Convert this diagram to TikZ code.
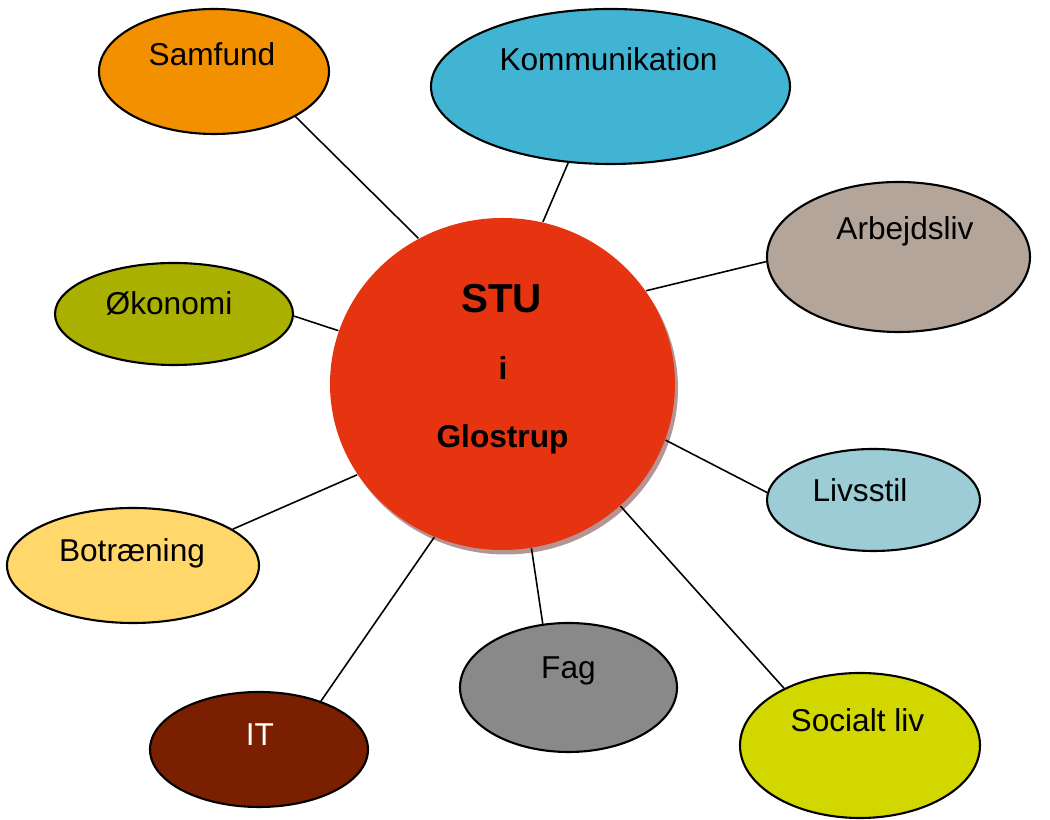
\documentclass[tikz,border=0pt]{standalone}
\usepackage{fontspec}
\setmainfont{Liberation Sans}
\usepackage{xcolor}
\usetikzlibrary{shapes.geometric,shadows}

\definecolor{samfundc}{HTML}{F39000}
\definecolor{kommc}{HTML}{42B4D3}
\definecolor{arbejdc}{HTML}{B3A59A}
\definecolor{okonomic}{HTML}{A9B000}
\definecolor{livsstilc}{HTML}{9CCCD6}
\definecolor{botraenc}{HTML}{FFD76A}
\definecolor{fagc}{HTML}{898989}
\definecolor{itc}{HTML}{7A1F00}
\definecolor{socialc}{HTML}{D3D700}
\definecolor{stuc}{HTML}{E5340F}
\definecolor{stushade}{HTML}{B59494}

\begin{document}
\begin{tikzpicture}
	[bubble/.style={ellipse,draw,line width=0.6pt,inner sep=0pt},
	 lbl/.style={anchor=base,font=\fontsize{9}{11}\selectfont},
	 hub/.style={anchor=base,font=\fontsize{9}{11}\selectfont\bfseries},
	 every edge/.style={draw,line width=0.45pt}]

	\useasboundingbox (0,0) rectangle (10.5,8.2);

	\node[ellipse,inner sep=0pt,fill=stuc,minimum width=3.45cm,minimum height=3.32cm,
		drop shadow={shadow xshift=0.03cm,shadow yshift=-0.045cm,fill=stushade,opacity=1}] (stu) at (5.025,4.36) {};

	\node[bubble,fill=samfundc,minimum width=2.30cm,minimum height=1.25cm] (samfund) at (2.14,7.485) {};
	\node[bubble,fill=kommc,minimum width=3.59cm,minimum height=1.55cm] (komm) at (6.105,7.335) {};
	\node[bubble,fill=arbejdc,minimum width=2.63cm,minimum height=1.50cm] (arbejd) at (8.985,5.63) {};
	\node[bubble,fill=okonomic,minimum width=2.38cm,minimum height=1.02cm] (okonomi) at (1.74,5.06) {};
	\node[bubble,fill=livsstilc,minimum width=2.13cm,minimum height=1.02cm] (livsstil) at (8.735,3.20) {};
	\node[bubble,fill=botraenc,minimum width=2.52cm,minimum height=1.15cm] (botraen) at (1.33,2.545) {};
	\node[bubble,fill=fagc,minimum width=2.17cm,minimum height=1.29cm] (fag) at (5.685,1.325) {};
	\node[bubble,fill=itc,minimum width=2.18cm,minimum height=1.15cm] (it) at (2.59,0.705) {};
	\node[bubble,fill=socialc,minimum width=2.40cm,minimum height=1.45cm] (social) at (8.60,0.745) {};

	\node[lbl] (samfundtxt) at (2.12,7.54) {Samfund};
	\node[lbl] (kommtxt) at (6.085,7.49) {Kommunikation};
	\node[lbl] (arbejdtxt) at (9.05,5.80) {Arbejdsliv};
	\node[lbl] (okonomitxt) at (1.69,5.05) {Økonomi};
	\node[lbl] (livsstiltxt) at (8.60,3.18) {Livsstil};
	\node[lbl] (botraentxt) at (1.32,2.58) {Botræning};
	\node[lbl] (fagtxt) at (5.685,1.41) {Fag};
	\node[lbl,text=white] (ittxt) at (2.60,0.74) {IT};
	\node[lbl] (socialtxt) at (8.575,0.88) {Socialt liv};

	\node[hub,font=\fontsize{11.5}{14}\selectfont\bfseries] (stutxt) at (5.015,5.07) {STU};
	\node[hub] (itxt) at (5.03,4.40) {i};
	\node[hub] (glostruptxt) at (5.025,3.72) {Glostrup};

	\path (samfund.-29) edge (stu.120);
	\path (komm.-119) edge (stu.76);
	\path (arbejd.-178) edge (stu.33);
	\path (okonomi.-1) edge (stu.162);
	\path (livsstil.176) edge (stu.-19);
	\path (botraen.20) edge (stu.-148);
	\path (it.38) edge (stu.-114);
	\path (fag.112) edge (stu.-80);
	\path (social.143) edge (stu.-46);
\end{tikzpicture}
\end{document}
